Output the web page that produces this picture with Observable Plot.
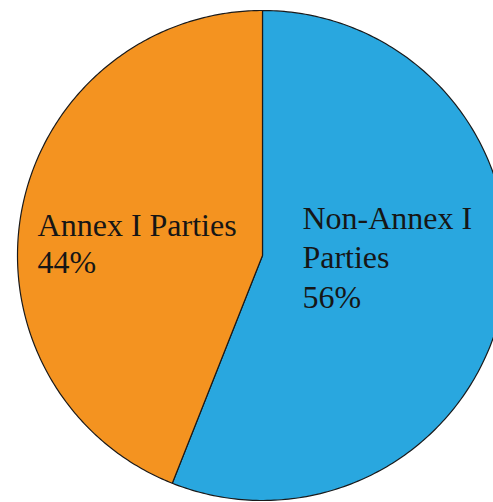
<!DOCTYPE html>
<html>
<head>
<meta charset="utf-8">
<script src="https://cdn.jsdelivr.net/npm/d3@7"></script>
<script src="https://cdn.jsdelivr.net/npm/@observablehq/plot@0.6"></script>
<style>
  html, body { margin: 0; padding: 0; background: #fff; }
</style>
</head>
<body>
<div id="chart"></div>
<script>
// Data
const categories = ["Non-Annex I Parties", "Annex I Parties"];
const shares = [56, 44];
const labelLines = [["Non-Annex I", "Parties", "56%"], ["Annex I Parties", "44%"]];
const colors = ["#29A7DF", "#F49320"];

// Build slice outlines from the shares (clockwise from 12 o'clock)
const total = d3.sum(shares);
const slices = [];
let acc = 0;
shares.forEach((v, i) => {
  const a0 = acc / total * 2 * Math.PI;
  acc += v;
  const a1 = acc / total * 2 * Math.PI;
  const n = 240;
  const pts = [{x: 0, y: 0, cat: categories[i]}];
  for (let k = 0; k <= n; k++) {
    const a = a0 + (a1 - a0) * k / n;
    pts.push({x: Math.sin(a), y: Math.cos(a), cat: categories[i]});
  }
  pts.push({x: 0, y: 0, cat: categories[i]});
  slices.push(pts);
});

// Label placement (unit-circle coordinates, computed in code)
const labelPos = [
  {x: 0.163, y: 0.11, step: 0.163},   // Non-Annex I
  {x: -0.918, y: 0.08, step: 0.151}  // Annex I
];
const texts = [];
labelLines.forEach((lines, i) => {
  lines.forEach((t, j) => {
    texts.push({x: labelPos[i].x, y: labelPos[i].y - j * labelPos[i].step, t});
  });
});

const SERIF = "Liberation Serif";
const W = 493, H = 502, R = 245, cx = 262, cy = 255;
const chart = Plot.plot({
  width: W,
  height: H,
  margin: 0,
  style: {fontFamily: SERIF, background: "#fff"},
  x: {domain: [-cx / R, (W - cx) / R], axis: null},
  y: {domain: [-(H - cy) / R, cy / R], axis: null},
  color: {domain: categories, range: colors},
  marks: [
    ...slices.map(pts => Plot.line(pts, {
      x: "x", y: "y", fill: "cat", stroke: "#1a1a1a", strokeWidth: 1.2,
      curve: "linear"
    })),
    Plot.text(texts, {
      x: "x", y: "y", text: "t",
      textAnchor: "start", lineAnchor: "bottom",
      fontFamily: SERIF, fontSize: 32, fill: "#161616"
    })
  ]
});
d3.select(chart).attr("font-family", SERIF);
d3.select(chart).selectAll("text, tspan, g[aria-label='text']")
  .attr("font-family", SERIF)
  .style("font-family", SERIF);
document.getElementById("chart").appendChild(chart);
</script>
</body>
</html>
